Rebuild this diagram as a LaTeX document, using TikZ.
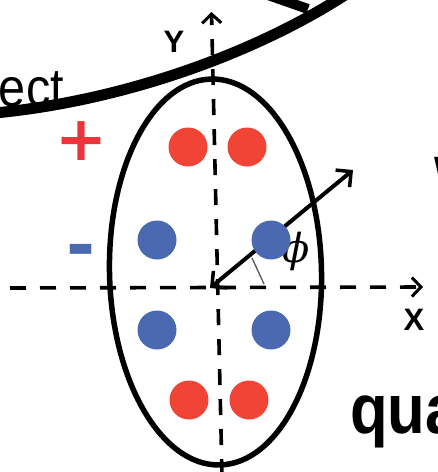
\documentclass[tikz,border=0pt]{standalone}
\usepackage{fontspec}
\setmainfont{Liberation Sans}
\newfontfamily\phifont{DejaVu Serif}
\newfontfamily\signfont{DejaVu Sans}
\usetikzlibrary{arrows.meta}
\definecolor{dotred}{HTML}{F04437}
\definecolor{signred}{HTML}{EE343B}
\definecolor{dotblue}{HTML}{4A69B1}
\definecolor{anglegray}{HTML}{5A5A5A}
\begin{document}
\begin{tikzpicture}[x=1pt,y=-1pt,
  dot/.style={circle, minimum size=39pt, inner sep=0pt, fill=#1},
  axisline/.style={line width=3.6pt, dash pattern=on 16pt off 14pt,
    -{Straight Barb[length=9pt,width=19pt,line width=3pt]}},
  vecline/.style={line width=4pt,
    {Straight Barb[length=11pt,width=22pt,line width=3.5pt]}-{Straight Barb[length=11pt,width=22pt,line width=3.5pt]}},
  lab/.style={inner sep=0pt, font=\fontsize{31}{36}\selectfont\bfseries},
  big/.style={inner sep=0pt, xscale=0.88, transform shape, font=\fontsize{70}{74}\selectfont\bfseries}]
\useasboundingbox (0,0) rectangle (438,472);
% text partly hidden by the thick curve
\node[inner sep=0pt, anchor=base east, xscale=0.9, transform shape, font=\fontsize{54}{60}\selectfont] (ect) at (64,106) {ect};
% thick black curve
\coordinate (c0) at (-5,113);
\coordinate (c1) at (345,-5);
\draw[line width=11pt] (c0) .. controls (130,100) and (260,50) .. (c1);
\coordinate (t0) at (268,-5);
\coordinate (t1) at (308,9);
\draw[line width=10pt] (t0) -- (t1);
% ellipse
\draw[line width=5.5pt, rotate around={1.3:(215.5,272)}] (215.5,272) ellipse [x radius=106, y radius=193];
% axes
\coordinate (ybot) at (222,475);
\coordinate (ytop) at (211.5,12);
\coordinate (xl) at (10,288);
\coordinate (xr) at (423,287);
\draw[axisline] (ybot) -- (ytop);
\draw[axisline] (xl) -- (xr);
\node[lab] (ylab) at (174,42) {Y};
\node[lab] (xlab) at (414,320) {X};
% vector and angle
\coordinate (O) at (210,288);
\coordinate (P) at (353,170);
\draw[vecline] (O) -- (P);
\coordinate (a1) at (252,258);
\coordinate (a2) at (264,284);
\draw[anglegray, line width=1.3pt] (a1) -- (a2);
\node[inner sep=0pt, font=\fontsize{40}{44}\phifont\itshape] (phi) at (296,251) {ϕ};
% charges
\node[dot=dotred] (r1) at (188,147) {};
\node[dot=dotred] (r2) at (247,147) {};
\node[dot=dotblue] (b1) at (157,240) {};
\node[dot=dotblue] (b2) at (271,240) {};
\node[dot=dotblue] (b3) at (157,330) {};
\node[dot=dotblue] (b4) at (271,330) {};
\node[dot=dotred] (r3) at (189,400) {};
\node[dot=dotred] (r4) at (249,400) {};
\node[inner sep=0pt, text=signred, font=\fontsize{62}{66}\signfont\bfseries] (plus) at (81,141) {+};
\node[inner sep=0pt, text=dotblue, font=\fontsize{70}{74}\signfont\bfseries] (minus) at (81,257) {-};
% cut-off words at the right
\node[big, anchor=base west] (qu) at (350,433) {qua};
\node[big, anchor=base west] (w) at (434,205) {W};
\end{tikzpicture}
\end{document}
